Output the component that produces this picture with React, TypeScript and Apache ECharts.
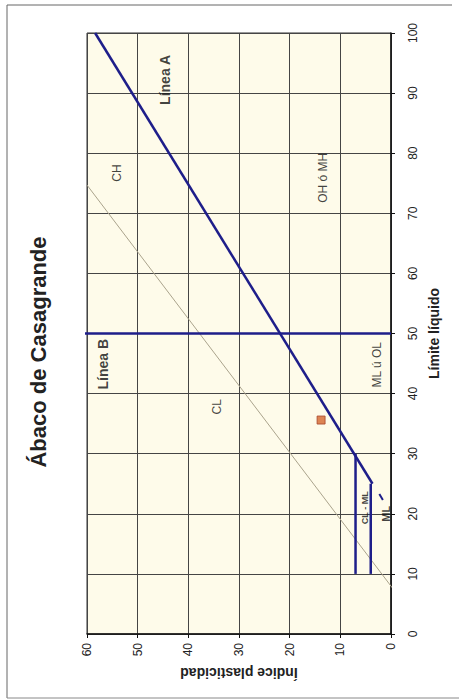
import React, { useEffect, useRef } from "react";
import * as echarts from "echarts";

// Índice plasticidad (horizontal, inverted) vs Límite líquido (vertical)
const piRange = [0, 60];
const llRange = [0, 100];
const lineA = [[3.65, 25], [58.4, 100]];
const lineB = [[0, 50], [60.8, 50]];
const uLine = [[-0.6, 7.3], [60, 74.7]];
const clmlUpper = [[7, 10], [7, 30]];
const clmlLower = [[4, 10], [4, 25]];
const mlDash = [[1.6, 22.3], [2.3, 23.3]];
const samplePoint = [[13.8, 35.6]];

const zoneNames = ["Línea A", "Línea B", "CH", "OH ó MH", "CL", "ML ú OL", "CL - ML", "ML"];
const zonePos = [[44.6, 92.2], [56.8, 44.9], [54.1, 76.7], [13.4, 75.9], [34.3, 37.8], [2.8, 44.8], [5.1, 21], [1.0, 20]];
const zoneSize = [14, 14, 12, 12, 12, 12, 9, 11];
const zoneBold = [true, true, false, false, false, false, true, true];

const FONT = "'Liberation Sans', Arial, sans-serif";

export default function App() {
  const ref = useRef<HTMLDivElement>(null);
  useEffect(() => {
    if (!ref.current) return;
    const chart = echarts.init(ref.current, undefined, { renderer: "svg" });
    const blue = "#1e1e8a";
    const seg = (data: number[][], color: string, width: number) => ({
      type: "line",
      data,
      symbol: "none",
      clip: false,
      lineStyle: { color, width },
      silent: true,
    });
    chart.setOption({
      animation: false,
      backgroundColor: "#ffffff",
      textStyle: { fontFamily: FONT },
      grid: {
        left: 87,
        top: 33,
        width: 304,
        height: 601,
        show: true,
        backgroundColor: "#fefbea",
        borderColor: "#333",
        borderWidth: 1,
      },
      xAxis: {
        type: "value",
        min: piRange[0],
        max: piRange[1],
        interval: 10,
        inverse: true,
        position: "bottom",
        axisLine: { show: true, lineStyle: { color: "#111", width: 1.5 } },
        axisTick: { show: true, length: 4, lineStyle: { color: "#111" } },
        splitLine: { show: true, lineStyle: { color: "#454545", width: 1 } },
        axisLabel: { rotate: 90, margin: 9, fontSize: 12, color: "#222", fontFamily: FONT },
        name: "Índice plasticidad",
        nameLocation: "middle",
        nameRotate: 180,
        nameGap: 32,
        nameTextStyle: { fontSize: 14, fontWeight: "bold", color: "#222", fontFamily: FONT },
      },
      yAxis: {
        type: "value",
        min: llRange[0],
        max: llRange[1],
        interval: 10,
        position: "right",
        axisLine: { show: true, lineStyle: { color: "#111", width: 1.5 } },
        axisTick: { show: true, length: 4, lineStyle: { color: "#111" } },
        splitLine: { show: true, lineStyle: { color: "#454545", width: 1 } },
        axisLabel: { rotate: 90, margin: 16, fontSize: 12, color: "#222", fontFamily: FONT },
        name: "Límite líquido",
        nameLocation: "middle",
        nameRotate: 90,
        nameGap: 36,
        nameTextStyle: { fontSize: 14, fontWeight: "bold", color: "#222", fontFamily: FONT },
      },
      graphic: [
        {
          type: "text",
          x: 38,
          y: 352,
          rotation: Math.PI / 2,
          style: {
            text: "Ábaco de Casagrande",
            font: `bold 22px ${FONT}`,
            fill: "#222",
            align: "center",
            verticalAlign: "middle",
          },
        },
        { type: "line", shape: { x1: 7, y1: 5, x2: 452, y2: 5 }, style: { stroke: "#666", lineWidth: 1 } },
        { type: "line", shape: { x1: 7, y1: 5, x2: 7, y2: 698 }, style: { stroke: "#666", lineWidth: 1 } },
        { type: "line", shape: { x1: 7, y1: 698, x2: 459, y2: 698 }, style: { stroke: "#888", lineWidth: 1 } },
      ],
      series: [
        seg(uLine, "#aaa38c", 1),
        seg(lineA, blue, 2.5),
        seg(lineB, blue, 2.5),
        seg(clmlUpper, blue, 2.5),
        seg(clmlLower, blue, 2.5),
        seg(mlDash, blue, 2),
        {
          type: "scatter",
          data: samplePoint,
          symbol: "rect",
          symbolSize: 8,
          itemStyle: { color: "#d4662e", borderColor: "#a8452a", borderWidth: 1 },
          silent: true,
        },
        {
          type: "scatter",
          symbolSize: 1,
          itemStyle: { color: "rgba(0,0,0,0)" },
          silent: true,
          data: zoneNames.map((n, i) => ({
            name: n,
            value: zonePos[i],
            label: {
              show: true,
              position: "inside",
              rotate: 90,
              formatter: n,
              fontSize: zoneSize[i],
              fontWeight: zoneBold[i] ? "bold" : "normal",
              color: "#111",
              fontFamily: FONT,
            },
          })),
        },
      ],
    });
    return () => chart.dispose();
  }, []);
  return <div ref={ref} style={{ position: "fixed", left: 0, top: 0, width: 459, height: 700 }} />;
}
